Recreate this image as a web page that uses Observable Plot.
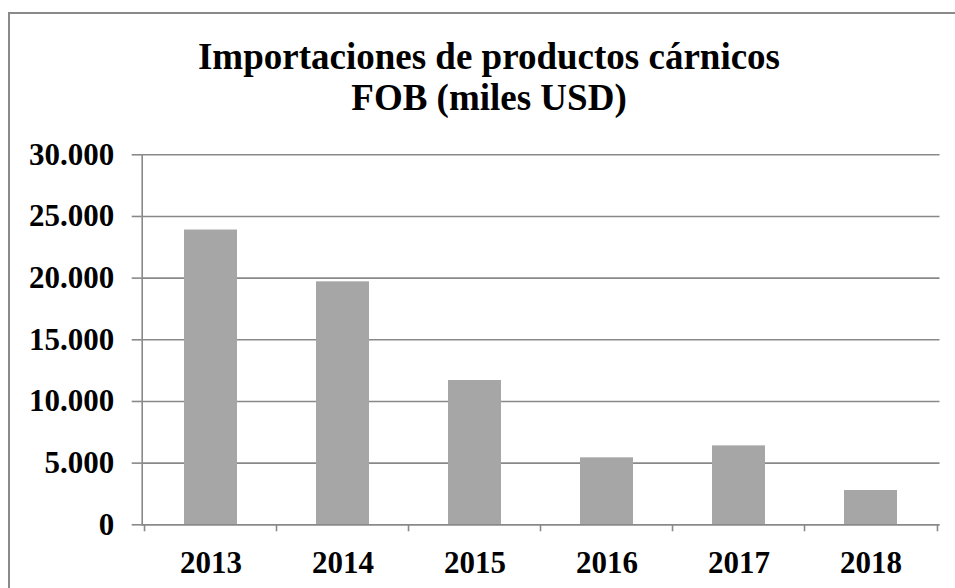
<!DOCTYPE html>
<html>
<head>
<meta charset="utf-8">
<script src="https://cdn.jsdelivr.net/npm/d3@7"></script>
<script src="https://cdn.jsdelivr.net/npm/@observablehq/plot@0.6"></script>
<style>
  html, body { margin: 0; padding: 0; background: #fff; overflow: hidden; }
  #wrap { position: relative; width: 955px; height: 588px; }
  #border { position: absolute; left: 8px; top: 12px; width: 2000px; height: 2000px;
            border-left: 2px solid #8a8a8a; border-top: 2px solid #8a8a8a; }
  #title { position: absolute; left: 0; width: 978px; top: 36px; text-align: center;
           font-family: "Liberation Serif", "Times New Roman", serif; font-weight: bold;
           font-size: 37px; line-height: 41px; color: #000; }
  #chart { position: absolute; left: 0; top: 0; }
</style>
</head>
<body>
<div id="wrap">
  <div id="border"></div>
  <div id="chart"></div>
  <div id="title">Importaciones de productos cárnicos<br>FOB (miles USD)</div>
</div>
<script>
const years = ["2013", "2014", "2015", "2016", "2017", "2018"];
const values = [23900, 19700, 11700, 5430, 6400, 2780];
const yTicks = [0, 5000, 10000, 15000, 20000, 25000, 30000];

const data = years.map((y, i) => ({year: y, value: values[i]}));
const locale = d3.formatLocale({decimal: ",", thousands: ".", grouping: [3], currency: ["", ""]});
const fmt = locale.format(",");

const W = 955, H = 588;
const mL = 141.7, mR = 15.5, mT = 154.3, mB = 63.7;
const step = (W - mL - mR) / years.length;
const grey = "#898989";
const font = "\"Liberation Serif\", \"Times New Roman\", serif";

const chart = Plot.plot({
  width: W,
  height: H,
  marginLeft: mL,
  marginRight: mR,
  marginTop: mT,
  marginBottom: mB,
  style: {fontFamily: font, fontWeight: "bold", fontSize: "31px", color: "#000", background: "transparent", overflow: "visible"},
  x: {type: "band", domain: years, paddingInner: 0.6, paddingOuter: 0.3},
  y: {domain: [0, 30000]},
  marks: [
    Plot.gridY(yTicks, {stroke: grey, strokeOpacity: 1, strokeWidth: 1.6}),
    Plot.frame({anchor: "left", stroke: grey, strokeWidth: 1.6}),
    Plot.axisY(yTicks, {tickSize: 10, tickPadding: 18, tickFormat: fmt, stroke: grey, strokeWidth: 1.6, label: null, fontSize: 31, fontWeight: "bold"}),
    Plot.axisX({tickSize: 0, tickPadding: 26, label: null, fontSize: 31, fontWeight: "bold"}),
    Plot.axisX({tickSize: 7, tickFormat: () => "", dx: -step / 2, stroke: grey, strokeWidth: 1.6, label: null}),
    Plot.axisX([years[years.length - 1]], {tickSize: 7, tickFormat: () => "", dx: step / 2, stroke: grey, strokeWidth: 1.6, label: null}),
    Plot.barY(data, {x: "year", y: "value", fill: "#a6a6a6"}),
    Plot.ruleY([0], {stroke: grey, strokeWidth: 1.6})
  ]
});
document.getElementById("chart").appendChild(chart);
</script>
</body>
</html>
